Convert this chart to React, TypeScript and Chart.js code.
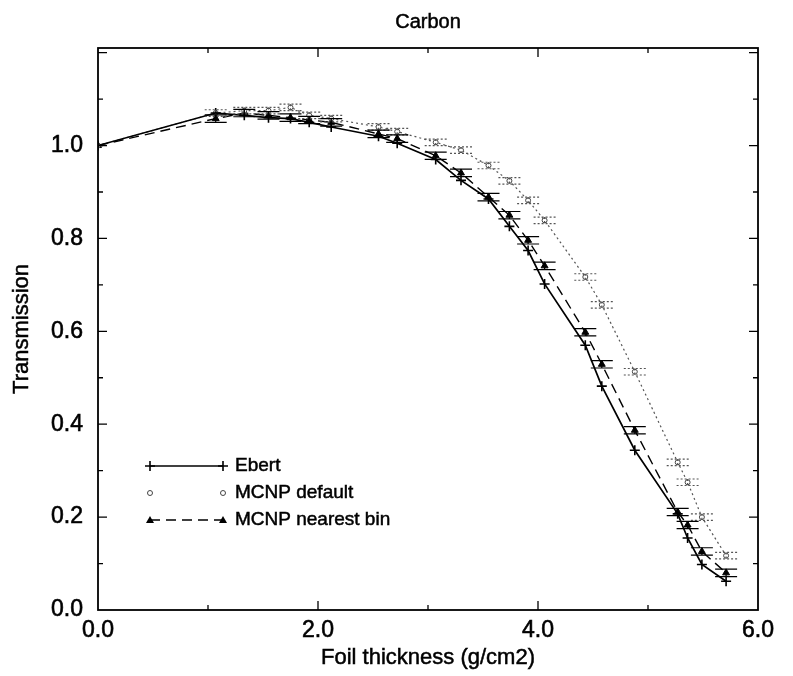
import React, { useEffect, useRef } from "react";
import { Chart, registerables } from "chart.js";

Chart.register(...registerables);

const thickness = [0, 1.07, 1.33, 1.55, 1.75, 1.92, 2.12, 2.55, 2.72, 3.07, 3.30, 3.55, 3.74, 3.91, 4.06, 4.43, 4.58, 4.88, 5.27, 5.36, 5.49, 5.71];
const ebert = [1.0, 1.07, 1.065, 1.06, 1.058, 1.05, 1.04, 1.02, 1.005, 0.97, 0.925, 0.885, 0.826, 0.774, 0.702, 0.57, 0.482, 0.344, 0.207, 0.155, 0.098, 0.062];
const mcnpNearest = [1.0, 1.058, 1.07, 1.065, 1.06, 1.055, 1.05, 1.025, 1.015, 0.978, 0.941, 0.889, 0.85, 0.796, 0.741, 0.598, 0.529, 0.387, 0.211, 0.183, 0.126, 0.08];
const mcnpNearestErr = [0, 0.008, 0.008, 0.008, 0.008, 0.008, 0.008, 0.008, 0.008, 0.008, 0.008, 0.008, 0.008, 0.008, 0.008, 0.008, 0.008, 0.008, 0.008, 0.008, 0.008, 0.008];
const mcnpDefault = [1.0, 1.07, 1.075, 1.075, 1.082, 1.065, 1.058, 1.04, 1.03, 1.007, 0.99, 0.957, 0.924, 0.882, 0.839, 0.717, 0.657, 0.513, 0.318, 0.275, 0.2, 0.117];
const mcnpDefaultErr = [0, 0.007, 0.007, 0.007, 0.007, 0.007, 0.007, 0.007, 0.007, 0.007, 0.007, 0.007, 0.007, 0.007, 0.007, 0.007, 0.007, 0.007, 0.007, 0.007, 0.007, 0.007];
const seriesNames = ["Ebert", "MCNP default", "MCNP nearest bin"];
const yTickValues = [0, 0.2, 0.4, 0.6, 0.8, 1.0];
const xTickValues = [0, 2, 4, 6];
const chartTitle = "Carbon";
const xTitle = "Foil thickness (g/cm2)";
const yTitle = "Transmission";

const FONT = "'Liberation Sans', Arial, Helvetica, sans-serif";

const toPts = (ys: number[]) => ys.map((y, i) => ({ x: thickness[i], y }));

function heavyText(ctx: any, text: string, x: number, y: number, size: number) {
  ctx.font = `${size}px ${FONT}`;
  ctx.fillStyle = "#000";
  ctx.strokeStyle = "#000";
  ctx.lineWidth = 0.5;
  ctx.fillText(text, x, y);
  ctx.strokeText(text, x, y);
}

const framePlugin = {
  id: "frameTicks",
  afterDraw(chart: any) {
    const { ctx, chartArea: a, scales } = chart;
    const xs = scales.x, ys = scales.y;
    ctx.save();
    ctx.strokeStyle = "#000";
    ctx.lineWidth = 1.8;
    ctx.strokeRect(a.left, a.top, a.right - a.left, a.bottom - a.top);
    ctx.lineWidth = 1.3;
    for (let i = 1; i <= 12; i++) {
      const v = i / 10;
      const py = ys.getPixelForValue(v);
      if (py < a.top + 1) continue;
      const len = i % 2 === 0 ? 9 : 5;
      ctx.beginPath();
      ctx.moveTo(a.left, py); ctx.lineTo(a.left + len, py);
      ctx.moveTo(a.right, py); ctx.lineTo(a.right - len, py);
      ctx.stroke();
    }
    for (let v = 1; v < 6; v++) {
      const px = xs.getPixelForValue(v);
      const len = v % 2 === 0 ? 9 : 5;
      ctx.beginPath();
      ctx.moveTo(px, a.bottom); ctx.lineTo(px, a.bottom - len);
      ctx.moveTo(px, a.top); ctx.lineTo(px, a.top + len);
      ctx.stroke();
    }
    const cx = (a.left + a.right) / 2;
    const cy = (a.top + a.bottom) / 2;
    ctx.textAlign = "center";
    ctx.textBaseline = "middle";
    heavyText(ctx, chartTitle, cx, 22, 20);
    heavyText(ctx, xTitle, cx, 658, 22);
    ctx.translate(22, cy);
    ctx.rotate(-Math.PI / 2);
    heavyText(ctx, yTitle, 0, 0, 22);
    ctx.restore();
  },
};

const errorPlugin = {
  id: "errBars",
  afterDatasetsDraw(chart: any) {
    const { ctx } = chart;
    const xs = chart.scales.x, ys = chart.scales.y;
    chart.data.datasets.forEach((ds: any) => {
      if (!ds.errors) return;
      ctx.save();
      ctx.strokeStyle = ds.errColor;
      ctx.lineWidth = 1.2;
      ctx.setLineDash(ds.errDash || []);
      ds.data.forEach((p: any, i: number) => {
        const e = ds.errors[i];
        if (!e) return;
        const px = xs.getPixelForValue(p.x);
        const y1 = ys.getPixelForValue(p.y + e);
        const y2 = ys.getPixelForValue(p.y - e);
        ctx.beginPath();
        ctx.moveTo(px - 11, y1); ctx.lineTo(px + 11, y1);
        ctx.moveTo(px - 11, y2); ctx.lineTo(px + 11, y2);
        ctx.moveTo(px, y1); ctx.lineTo(px, y2);
        ctx.stroke();
      });
      ctx.restore();
    });
  },
};

const legendPlugin = {
  id: "customLegend",
  afterDraw(chart: any) {
    const { ctx } = chart;
    const x1 = 150, x2 = 223, tx = 235;
    const rows = [466, 493, 520];
    ctx.save();
    chart.data.datasets.forEach((ds: any, i: number) => {
      const y = rows[i];
      ctx.strokeStyle = ds.borderColor;
      ctx.lineWidth = ds.borderWidth;
      ctx.setLineDash(ds.borderDash || []);
      if (ds.legendLine !== false) {
        ctx.beginPath();
        ctx.moveTo(x1, y); ctx.lineTo(x2, y);
        ctx.stroke();
      }
      ctx.setLineDash([]);
      [x1, x2].forEach((mx) => {
        ctx.lineWidth = ds.pointBorderWidth;
        ctx.strokeStyle = ds.pointBorderColor;
        ctx.fillStyle = ds.pointBackgroundColor;
        if (ds.pointStyle === "cross") {
          ctx.beginPath();
          ctx.moveTo(mx - 5, y); ctx.lineTo(mx + 5, y);
          ctx.moveTo(mx, y - 5); ctx.lineTo(mx, y + 5);
          ctx.stroke();
        } else if (ds.pointStyle === "triangle") {
          ctx.beginPath();
          ctx.moveTo(mx, y - 4); ctx.lineTo(mx + 4, y + 3); ctx.lineTo(mx - 4, y + 3);
          ctx.closePath(); ctx.fill();
        } else {
          ctx.beginPath();
          ctx.arc(mx, y, 2.5, 0, Math.PI * 2);
          ctx.fill(); ctx.stroke();
        }
      });
      ctx.textAlign = "left";
      ctx.textBaseline = "middle";
      heavyText(ctx, ds.label, tx, y, 19);
    });
    ctx.restore();
  },
};

export default function App() {
  const ref = useRef<HTMLCanvasElement | null>(null);
  useEffect(() => {
    if (!ref.current) return;
    const chart = new Chart(ref.current, {
      type: "line",
      data: {
        datasets: [
          {
            label: seriesNames[0],
            data: toPts(ebert),
            borderColor: "#000",
            borderWidth: 1.7,
            pointStyle: "cross",
            pointRadius: 5,
            pointBorderWidth: 1.6,
            pointBorderColor: "#000",
            pointBackgroundColor: "#000",
            tension: 0,
          } as any,
          {
            label: seriesNames[1],
            data: toPts(mcnpDefault),
            borderColor: "#555",
            borderWidth: 1.2,
            borderDash: [2, 3],
            pointStyle: "circle",
            pointRadius: 2.5,
            pointBorderWidth: 1,
            pointBorderColor: "#444",
            pointBackgroundColor: "#fff",
            errors: mcnpDefaultErr,
            errColor: "#555",
            errDash: [2, 2],
            legendLine: false,
            tension: 0,
          } as any,
          {
            label: seriesNames[2],
            data: toPts(mcnpNearest),
            borderColor: "#000",
            borderWidth: 1.4,
            borderDash: [10, 6],
            pointStyle: "triangle",
            pointRadius: 4,
            pointBorderWidth: 1,
            pointBorderColor: "#000",
            pointBackgroundColor: "#000",
            errors: mcnpNearestErr,
            errColor: "#000",
            tension: 0,
          } as any,
        ],
      },
      options: {
        responsive: false,
        animation: false,
        devicePixelRatio: 1,
        layout: { padding: { left: 0, right: 35, top: 48, bottom: 0 } },
        plugins: {
          legend: { display: false },
          tooltip: { enabled: false },
          title: { display: false },
        },
        scales: {
          x: {
            type: "linear",
            min: 0,
            max: 6,
            afterFit: (s: any) => { s.height = 66; },
            afterBuildTicks: (s: any) => { s.ticks = xTickValues.map((v) => ({ value: v })); },
            grid: { display: false, drawTicks: false },
            border: { display: false },
            ticks: {
              padding: 7,
              color: "#000",
              textStrokeColor: "#000",
              textStrokeWidth: 0.6,
              font: { family: FONT, size: 23 },
              callback: (v: any) => Number(v).toFixed(1),
            },
            title: { display: false },
          },
          y: {
            type: "linear",
            min: 0,
            max: 1.21,
            afterFit: (s: any) => { s.width = 98; },
            afterBuildTicks: (s: any) => { s.ticks = yTickValues.map((v) => ({ value: v })); },
            grid: { display: false, drawTicks: false },
            border: { display: false },
            ticks: {
              padding: 15,
              color: "#000",
              textStrokeColor: "#000",
              textStrokeWidth: 0.6,
              font: { family: FONT, size: 23 },
              callback: (v: any) => Number(v).toFixed(1),
            },
            title: { display: false },
          },
        },
      },
      plugins: [framePlugin, errorPlugin, legendPlugin],
    } as any);
    return () => chart.destroy();
  }, []);
  return (
    <div style={{ position: "absolute", left: 0, top: 0, width: 793, height: 676, background: "#fff" }}>
      <canvas ref={ref} width={793} height={676} />
    </div>
  );
}
